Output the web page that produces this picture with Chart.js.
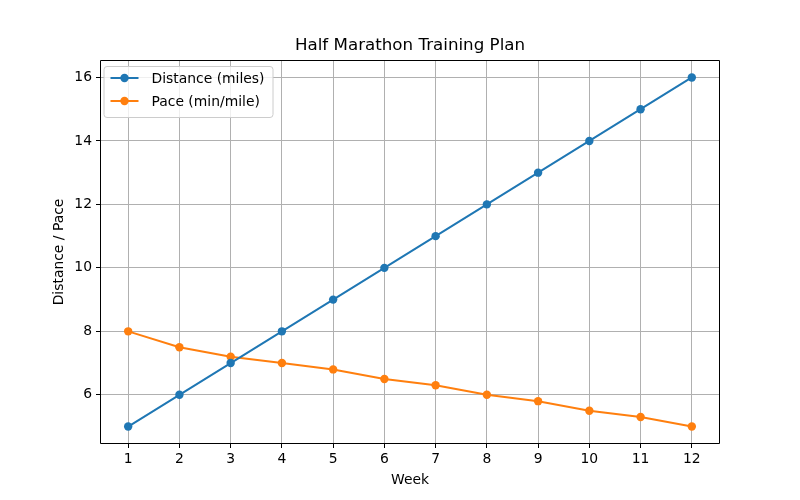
<!DOCTYPE html>
<html>
<head>
<meta charset="utf-8">
<script src="https://cdn.jsdelivr.net/npm/chart.js@4"></script>
<style>
html,body{margin:0;padding:0;background:#fff;}
#wrap{width:800px;height:500px;}
</style>
</head>
<body>
<div id="wrap"><canvas id="c" width="800" height="500"></canvas></div>
<script>
const weeks = [1,2,3,4,5,6,7,8,9,10,11,12];
const distance = [5,6,7,8,9,10,11,12,13,14,15,16];
const pace = [8.0,7.5,7.2,7.0,6.8,6.5,6.3,6.0,5.8,5.5,5.3,5.0];
const yTicks = [6,8,10,12,14,16];
const titleText = 'Half Marathon Training Plan';
const xLabel = 'Week';
const yLabel = 'Distance / Pace';
const seriesNames = ['Distance (miles)','Pace (min/mile)'];
const colors = ['#1f77b4','#ff7f0e'];

const FONT = 'DejaVu Sans';

const overlay = {
  id: 'overlay',
  afterDraw(chart) {
    const ctx = chart.ctx;
    const a = chart.chartArea;
    ctx.save();
    // spines
    const x0 = Math.round(a.left), x1 = Math.round(a.right), y0 = Math.round(a.top), y1 = Math.round(a.bottom);
    ctx.strokeStyle = '#000';
    ctx.lineWidth = 1;
    ctx.beginPath();
    ctx.moveTo(x0 + 0.5, y0 + 0.5); ctx.lineTo(x1 - 0.5, y0 + 0.5);
    ctx.lineTo(x1 - 0.5, y1 - 0.5); ctx.lineTo(x0 + 0.5, y1 - 0.5); ctx.closePath();
    ctx.stroke();
    // title
    ctx.fillStyle = '#000';
    ctx.font = '16.7px "' + FONT + '"';
    ctx.textAlign = 'center';
    ctx.textBaseline = 'middle';
    ctx.fillText(titleText, (a.left + a.right) / 2, 46);
    // axis labels
    ctx.font = '13.9px "' + FONT + '"';
    ctx.fillText(xLabel, (a.left + a.right) / 2, 480);
    ctx.save();
    ctx.translate(59, (a.top + a.bottom) / 2);
    ctx.rotate(-Math.PI / 2);
    ctx.fillText(yLabel, 0, 0);
    ctx.restore();
    // legend
    const lx = a.left + 3.5, ly = a.top + 6, lw = 169, lh = 51;
    ctx.beginPath();
    if (ctx.roundRect) ctx.roundRect(lx + 0.5, ly + 0.5, lw, lh, 3); else ctx.rect(lx + 0.5, ly + 0.5, lw, lh);
    ctx.fillStyle = 'rgba(255,255,255,0.8)';
    ctx.fill();
    ctx.strokeStyle = '#cccccc';
    ctx.lineWidth = 1;
    ctx.stroke();
    const rows = [ly + 12, ly + 35];
    seriesNames.forEach((name, i) => {
      const y = rows[i];
      ctx.strokeStyle = colors[i];
      ctx.lineWidth = 2;
      ctx.beginPath();
      ctx.moveTo(lx + 7, y);
      ctx.lineTo(lx + 35, y);
      ctx.stroke();
      ctx.fillStyle = colors[i];
      ctx.beginPath();
      ctx.arc(lx + 21, y, 4.2, 0, Math.PI * 2);
      ctx.fill();
      ctx.fillStyle = '#000';
      ctx.textAlign = 'left';
      ctx.textBaseline = 'middle';
      ctx.font = '13.9px "' + FONT + '"';
      ctx.fillText(name, lx + 48, y + 1);
    });
    ctx.restore();
  }
};

const mk = (arr) => weeks.map((w, i) => ({x: w, y: arr[i]}));

new Chart(document.getElementById('c'), {
  type: 'line',
  data: {
    datasets: [
      {label: seriesNames[0], data: mk(distance), borderColor: colors[0], backgroundColor: colors[0],
       borderWidth: 2, pointRadius: 4.2, pointHoverRadius: 4.2, pointBorderWidth: 0, tension: 0, clip: false},
      {label: seriesNames[1], data: mk(pace), borderColor: colors[1], backgroundColor: colors[1],
       borderWidth: 2, pointRadius: 4.2, pointHoverRadius: 4.2, pointBorderWidth: 0, tension: 0, clip: false}
    ]
  },
  options: {
    responsive: false,
    animation: false,
    events: [],
    layout: {padding: {left: 0, top: 60, right: 80, bottom: 0}},
    plugins: {legend: {display: false}, title: {display: false}, tooltip: {enabled: false}},
    scales: {
      x: {
        type: 'linear',
        min: 0.45, max: 12.55,
        afterBuildTicks: (s) => { s.ticks = weeks.map(v => ({value: v})); },
        afterFit: (s) => { s.height = 56; },
        grid: {color: '#b0b0b0', lineWidth: 1, tickColor: '#000', tickLength: 4, drawTicks: true},
        border: {display: false},
        ticks: {color: '#000', font: {family: FONT, size: 13.9}, padding: 3, maxRotation: 0, autoSkip: false,
                callback: (v) => String(v)}
      },
      y: {
        type: 'linear',
        min: 4.45, max: 16.55,
        afterBuildTicks: (s) => { s.ticks = yTicks.map(v => ({value: v})); },
        afterFit: (s) => { s.width = 100; },
        grid: {color: '#b0b0b0', lineWidth: 1, tickColor: '#000', tickLength: 4, drawTicks: true},
        border: {display: false},
        ticks: {color: '#000', font: {family: FONT, size: 13.9}, padding: 4, autoSkip: false,
                callback: (v) => String(v)}
      }
    }
  },
  plugins: [overlay]
});
</script>
</body>
</html>
